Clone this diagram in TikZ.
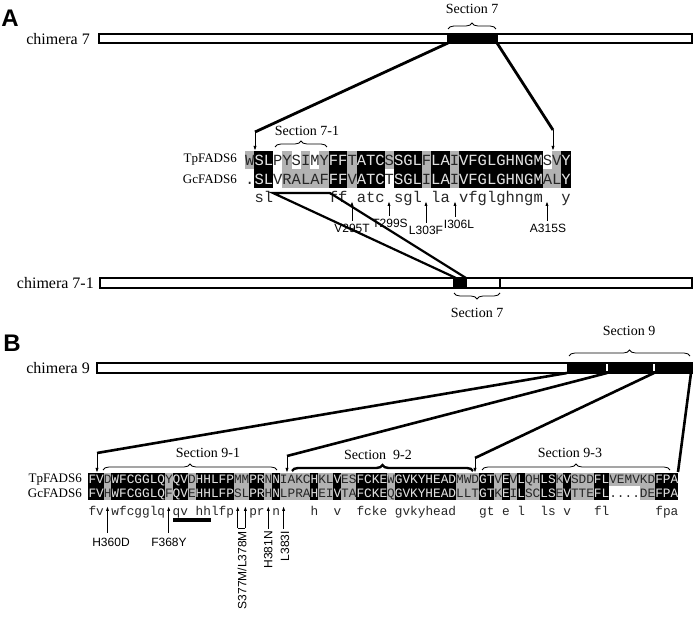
\documentclass[tikz,border=0pt]{standalone}
\usepackage{fontspec}
\setmainfont{Liberation Serif}
\setsansfont{Liberation Sans}
\setmonofont{Liberation Mono}
\usetikzlibrary{decorations.pathreplacing,arrows.meta}

\colorlet{cellgrey}{black!30}
\colorlet{celldark}{black!8!black}
\colorlet{celllight}{black!12}

\tikzset{
  chim/.style={draw, line width=2pt, fill=white},
  connector/.style={line width=2.8pt},
  arr/.style={-{Latex[length=5pt,width=3.2pt]}, line width=0.9pt},
  sbrace/.style={decorate, decoration={brace, amplitude=6pt}, line width=0.8pt},
  lab/.style={font=\fontsize{16}{16}\selectfont, anchor=east, inner sep=0pt},
  seqlab/.style={font=\fontsize{13}{13}\selectfont, anchor=east, inner sep=0pt},
  sec/.style={font=\fontsize{14}{14}\selectfont, inner sep=0pt},
  mut/.style={font=\sffamily\fontsize{12}{12}\selectfont, inner sep=0pt},
  panel/.style={font=\sffamily\bfseries\fontsize{24}{24}\selectfont, inner sep=0pt},
  seqA/.style={font=\ttfamily\fontsize{15.5}{15.5}\selectfont, anchor=base west, inner sep=0pt, text=black!85},
  seqB/.style={font=\ttfamily\fontsize{12.765}{12.765}\selectfont, anchor=base west, inner sep=0pt, text=black!85},
}

% sequences
\newcommand{\tpA}{WSLPYSIMYFFTATCSSGLFLAIVFGLGHNGMSVY}
\newcommand{\gcA}{.SLVRALAFFFVATCTSGLILAIVFGLGHNGMALY}
\newcommand{\consA}{~sl~~~~~~ff~atc~sgl~la~vfglghngm~~y}
\newcommand{\tpB}{FVDWFCGGLQYQVDHHLFPMMPRNNIAKCHKLVESFCKEWGVKYHEADMWDGTVEVLQHLSKVSDDFLVEMVKDFPA}
\newcommand{\gcB}{FVHWFCGGLQFQVEHHLFPSLPRHNLPRAHEIVTAFCKEQGVKYHEADLLTGTKEILSCLSEVTTEFL....DEFPA}
\newcommand{\consB}{fv~wfcgglq~qv~hhlfp~~pr~n~~~~h~~v~~fcke~gvkyhead~~~gt~e~l~~ls~v~~~fl~~~~~~fpa}

\begin{document}
\frenchspacing
\begin{tikzpicture}[x=1pt, y=-1pt]
\useasboundingbox (0,0) rectangle (697,617);

% ---------------- panel A ----------------
\node[panel] (pA) at (10,18) {A};
\node[lab] (c7) at (90,39) {chimera 7};
\draw[chim] (99,34) rectangle (692,43);
\fill (447,34) rectangle (498,43);
\coordinate (s7l) at (448,43);
\coordinate (s7r) at (497,43);
\draw[sbrace] (448,29) -- (496,29);
\node[sec] (sec7) at (472,9) {Section 7};

% alignment of section 7
\node[seqlab] (tpAl) at (237,160) {TpFADS6};
\node[seqlab] (gcAl) at (237,179) {GcFADS6};
\foreach \a/\b in {1/1,5/5,7/7,9/9,12/12,16/16,20/20,23/23,34/34}
  \fill[cellgrey] ({245+(\a-1)*9.3},151) rectangle ({245+\b*9.3},169.5);
\foreach \a/\b in {5/9,12/12,20/20,23/23,33/34}
  \fill[cellgrey] ({245+(\a-1)*9.3},169.5) rectangle ({245+\b*9.3},188);
\foreach \a/\b in {2/3,10/11,13/15,17/19,21/22,24/32,35/35}
  \fill[celldark] ({245+(\a-1)*9.3},151) rectangle ({245+\b*9.3},188);
\node[seqA] (tpA) at (245,165.1) {\tpA};
\node[seqA] (gcA) at (245,184.1) {\gcA};
\begin{scope}
  \clip \foreach \a/\b in {2/3,10/11,13/15,17/19,21/22,24/32,35/35}
    {({245+(\a-1)*9.3},151) rectangle ({245+\b*9.3},188)};
  \node[seqA, text=celllight] (tpAw) at (245,165.1) {\tpA};
  \node[seqA, text=celllight] (gcAw) at (245,184.1) {\gcA};
\end{scope}
\node[seqA] (consA) at (245,202.2) {\consA};

\draw[sbrace] (275,147) -- (327,147);
\node[sec] (sec71) at (307,131) {Section 7-1};

% links chimera 7 -> alignment
\coordinate (a1) at (255,132);
\coordinate (a2) at (553,130);
\draw[connector] (s7l) -- (a1);
\draw[connector] (s7r) -- (a2);
\draw[arr] (a1) -- (255,151);
\draw[arr] (a2) -- (553,151);

% substitutions
\foreach \x/\xl/\yt/\yl/\t in {352/352/221/228/V295T,389/390/216/223/T299S,426/426/223/230/L303F,455/459/217/224/I306L,547/548/221/228/A315S}{
  \draw[arr] (\x,\yt) -- (\x,201);
  \node[mut] (m\t) at (\xl,\yl) {\t};
}

% chimera 7-1
\node[lab] (c71) at (94,283) {chimera 7-1};
\draw[chim] (100,278) rectangle (692,288);
\fill (453,278) rectangle (467,288);
\draw[line width=1.5pt] (500,278) -- (500,288);
\coordinate (r1) at (273,193);
\coordinate (r2) at (330,193);
\coordinate (k1) at (456,278);
\coordinate (k2) at (466,278);
\draw[line width=2.2pt] (k1) -- (r1) -- (r2) -- (k2);
\draw[sbrace] (500,293) -- (454,293);
\node[sec] (sec7b) at (477,313) {Section 7};

% ---------------- panel B ----------------
\node[panel] (pB) at (12,343) {B};
\node[lab] (c9) at (90,368) {chimera 9};
\draw[chim] (97,363) rectangle (692,373);
\fill (567,363) rectangle (692,373);
\draw[white, line width=1.2pt] (607,364.5) -- (607,371.5);
\draw[white, line width=1.2pt] (654,364.5) -- (654,371.5);
\draw[sbrace] (569,356) -- (690,356);
\node[sec] (sec9) at (629,331) {Section 9};

% alignment of section 9
\node[seqlab] (tpBl) at (82,480) {TpFADS6};
\node[seqlab] (gcBl) at (82,493.5) {GcFADS6};
\foreach \a/\b in {3/3,11/11,14/14,20/21,24/24,26/29,31/32,34/35,40/40,49/51,54/54,56/56,58/59,62/62,64/66,69/74}
  \fill[cellgrey] ({88.3+(\a-1)*7.66},473) rectangle ({88.3+\b*7.66},486.5);
\foreach \a/\b in {3/3,11/11,14/14,20/21,24/24,26/29,31/32,34/35,40/40,49/51,54/54,56/56,58/59,62/62,64/66,73/74}
  \fill[cellgrey] ({88.3+(\a-1)*7.66},486.5) rectangle ({88.3+\b*7.66},500);
\foreach \a/\b in {1/2,4/10,12/13,15/19,22/23,25/25,30/30,33/33,36/39,41/48,52/53,55/55,57/57,60/61,63/63,67/68,75/77}
  \fill[celldark] ({88.3+(\a-1)*7.66},473) rectangle ({88.3+\b*7.66},500);
\node[seqB] (tpB) at (88.3,483.9) {\tpB};
\node[seqB] (gcB) at (88.3,497.4) {\gcB};
\begin{scope}
  \clip \foreach \a/\b in {1/2,4/10,12/13,15/19,22/23,25/25,30/30,33/33,36/39,41/48,52/53,55/55,57/57,60/61,63/63,67/68,75/77}
    {({88.3+(\a-1)*7.66},473) rectangle ({88.3+\b*7.66},500)};
  \node[seqB, text=celllight] (tpBw) at (88.3,483.9) {\tpB};
  \node[seqB, text=celllight] (gcBw) at (88.3,497.4) {\gcB};
\end{scope}
\node[seqB] (consB) at (88.3,515.4) {\consB};
\fill (173,518.5) rectangle (211,522.5);

% sub-sections
\draw[sbrace] (103,470) -- (277,470);
\node[sec] (sec91) at (208,453) {Section 9-1};
\draw[sbrace, line width=2.4pt] (292,471) -- (473,471);
\node[sec] (sec92) at (378,455) {Section\ \ 9-2};
\draw[sbrace] (482,470) -- (670,470);
\node[sec] (sec93) at (570,453) {Section 9-3};

% links chimera 9 -> alignment
\coordinate (b0) at (567,373);
\coordinate (b1) at (607,373);
\coordinate (b2) at (654,373);
\coordinate (b3) at (691,373);
\coordinate (q1) at (97,453);
\coordinate (q2) at (287,456);
\coordinate (q3) at (475,458);
\coordinate (q4) at (678,472);
\draw[connector, line width=2.6pt] (b0) -- (q1);
\draw[connector, line width=2.6pt] (b1) -- (q2);
\draw[connector, line width=2.6pt] (b2) -- (q3);
\draw[connector, line width=2.6pt] (b3) -- (q4);
\draw[arr] (q1) -- (97,473);
\draw[arr] (q2) -- (287,473);
\draw[arr] (q3) -- (475,473);

% substitutions
\draw[arr] (107.5,533) -- (107.5,506);
\draw[arr] (168.7,533) -- (168.7,506);
\draw[arr] (237.7,528) -- (237.7,506);
\draw[arr] (245.4,528) -- (245.4,506);
\draw[line width=0.9pt] (237.7,528) -- (245.4,528);
\draw[arr] (268.3,529) -- (268.3,506);
\draw[arr] (283.6,529) -- (283.6,506);
\node[mut] (mH360D) at (111,542) {H360D};
\node[mut] (mF368Y) at (169,542) {F368Y};
\node[mut, rotate=90, anchor=east] (mS377M) at (242,531) {S377M/L378M};
\node[mut, rotate=90, anchor=east] (mH381N) at (268.3,531) {H381N};
\node[mut, rotate=90, anchor=east] (mL383I) at (285,531) {L383I};
\end{tikzpicture}
\end{document}
